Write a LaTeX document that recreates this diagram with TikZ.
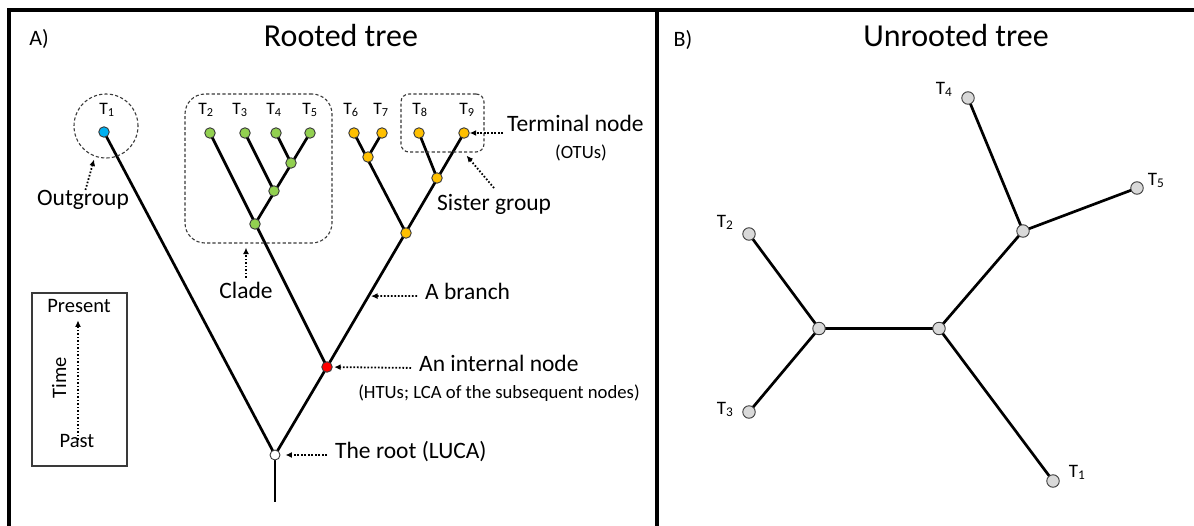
\documentclass[tikz,border=0pt]{standalone}
\usepackage{fontspec}
\setmainfont{Carlito}
\usetikzlibrary{arrows.meta,backgrounds,calc}

\definecolor{tipblue}{HTML}{00B0F0}
\definecolor{cladegreen}{HTML}{92D050}
\definecolor{sisorange}{HTML}{FFC000}
\definecolor{ancred}{HTML}{FF0000}
\definecolor{nodegray}{HTML}{D9D9D9}
\definecolor{rimgray}{HTML}{3A3A3A}

\newcommand{\Tl}[1]{T\textsubscript{#1}}

\begin{document}
\begin{tikzpicture}[x=1pt,y=-1pt,
  frame/.style={line width=4pt},
  edge/.style={line width=2.7pt},
  tnode/.style={circle, draw=rimgray, line width=0.9pt, minimum size=10.5pt, inner sep=0pt},
  unode/.style={tnode, fill=nodegray, minimum size=12.5pt},
  grp/.style={draw=rimgray, line width=1.1pt, dash pattern=on 3.2pt off 2.2pt},
  ann/.style={line width=1.8pt, dash pattern=on 1.6pt off 1.9pt,
              -{Latex[length=6.5pt,width=6pt]}},
  tlab/.style={inner sep=0pt, text height=0.64em, text depth=0pt, font=\fontsize{17.5}{20}\selectfont},
  ulab/.style={tlab, font=\fontsize{19}{22}\selectfont},
  annlab/.style={inner xsep=2pt, inner ysep=0pt, text height=0.64em, text depth=0pt,
                 font=\fontsize{23.5}{28}\selectfont},
  small/.style={inner sep=0pt, text height=0.64em, text depth=0pt, font=\fontsize{18.7}{22}\selectfont},
  title/.style={inner sep=0pt, text height=0.64em, text depth=0pt, font=\fontsize{32}{38}\selectfont},
  panel/.style={inner sep=0pt, text height=0.64em, text depth=0pt, font=\fontsize{22}{26}\selectfont},
  timelab/.style={inner sep=0pt, text height=0.64em, text depth=0pt, font=\fontsize{20.5}{24}\selectfont},
]
\useasboundingbox (0,0) rectangle (1194,525);
\begin{scope}[on background layer]
  \fill[white] (0,0) rectangle (1194,525);
\end{scope}

% outer frame and panel divider
\draw[frame] (9,10) -- (1210,10);
\draw[frame] (9,8) -- (9,540);
\draw[frame] (657,10) -- (657,540);

% panel headings
\node[panel] (pa) at (39,42) {A)};
\node[title] (ta) at (341,43) {Rooted tree};
\node[panel] (pb) at (683,43) {B)};
\node[title] (tb) at (956,43) {Unrooted tree};

% ---------------- rooted tree ----------------
\node[tnode, fill=tipblue]    (t1) at (104,132) {};
\node[tnode, fill=cladegreen] (g2) at (210,133) {};
\node[tnode, fill=cladegreen] (g3) at (245,133) {};
\node[tnode, fill=cladegreen] (g4) at (276,133) {};
\node[tnode, fill=cladegreen] (g5) at (310,133) {};
\node[tnode, fill=cladegreen] (ga) at (291,163) {};
\node[tnode, fill=cladegreen] (gb) at (274,191) {};
\node[tnode, fill=cladegreen] (gc) at (255,224) {};
\node[tnode, fill=sisorange]  (o6) at (354,133) {};
\node[tnode, fill=sisorange]  (o7) at (382,133) {};
\node[tnode, fill=sisorange]  (oa) at (368,157) {};
\node[tnode, fill=sisorange]  (o8) at (419,133) {};
\node[tnode, fill=sisorange]  (o9) at (464,133) {};
\node[tnode, fill=sisorange]  (ob) at (437,178) {};
\node[tnode, fill=sisorange]  (oc) at (406,233) {};
\node[tnode, fill=ancred]     (red) at (327,367) {};
\node[tnode, fill=white, minimum size=10pt] (root) at (275,455) {};
\coordinate (stemend) at (275,502);

\begin{scope}[on background layer]
  \draw[edge] (t1.center) -- (root.center) -- (red.center);
  \draw[edge] (root.center) -- (stemend);
  \draw[edge] (g2.center) -- (red.center) -- (o9.center);
  \draw[edge] (g5.center) -- (gc.center);
  \draw[edge] (g3.center) -- (gb.center);
  \draw[edge] (g4.center) -- (ga.center);
  \draw[edge] (o6.center) -- (oc.center);
  \draw[edge] (o7.center) -- (oa.center);
  \draw[edge] (o8.center) -- (ob.center);
\end{scope}

% leaf labels
\node[tlab] (lt1) at (107,111) {\Tl{1}};
\node[tlab] (lt2) at (206,111) {\Tl{2}};
\node[tlab] (lt3) at (240,111) {\Tl{3}};
\node[tlab] (lt4) at (274,111) {\Tl{4}};
\node[tlab] (lt5) at (310,111) {\Tl{5}};
\node[tlab] (lt6) at (351,111) {\Tl{6}};
\node[tlab] (lt7) at (381,111) {\Tl{7}};
\node[tlab] (lt8) at (420,111) {\Tl{8}};
\node[tlab] (lt9) at (467,111) {\Tl{9}};

% groupings
\node[grp, circle, minimum size=64pt, inner sep=0pt] (og) at (106,126) {};
\node[grp, rectangle, rounded corners=20pt, minimum width=147pt, minimum height=149pt, inner sep=0pt] (clade) at (258.5,168.5) {};
\node[grp, rectangle, rounded corners=8pt, minimum width=83pt, minimum height=58pt, inner sep=0pt] (sis) at (442.5,123) {};

% annotations
\node[annlab] (lout) at (83,202) {Outgroup};
\draw[ann, shorten <=9pt, shorten >=3pt] (lout.north) -- (og.250);

\node[annlab] (lclade) at (246,295) {Clade};
\draw[ann, shorten <=14pt, shorten >=4pt] (lclade.north) -- (lclade.north |- clade.south);

\node[annlab, anchor=west] (lbranch) at (423,296) {A branch};
\coordinate (brpt) at ($(red)!0.303!(o9)$);
\draw[ann, shorten <=6pt, shorten >=2.5pt] (lbranch.west) -- (brpt);

\node[annlab, anchor=west] (lint) at (417,368) {An internal node};
\node[small] (lhtu) at (499,395) {(HTUs; LCA of the subsequent nodes)};
\draw[ann, shorten <=6pt, shorten >=1.5pt] (lint.west) -- (red);

\node[annlab, anchor=west] (lroot) at (333,455) {The root (LUCA)};
\draw[ann, shorten <=6pt, shorten >=5pt] (lroot.west) -- (root);

\node[annlab, anchor=west] (lterm) at (505,128) {Terminal node};
\node[small] (lotu) at (581,155) {(OTUs)};
\draw[ann, shorten <=2pt, shorten >=0pt] (lterm.west |- o9) -- (o9);

\node[annlab, anchor=west] (lsis) at (435,207) {Sister group};
\coordinate (sgtail) at (494,188);
\draw[ann, shorten >=4pt] (sgtail) -- (sis.south east -| o9);

% time legend
\node[draw=rimgray, line width=1.3pt, minimum width=95pt, minimum height=173pt, inner sep=0pt] (tbox) at (79.5,379.5) {};
\node[timelab] (lpresent) at (79,309) {Present};
\node[timelab] (lpast) at (77,444) {Past};
\node[timelab, rotate=90] (ltime) at (63,378) {Time};
\coordinate (tline) at (78,0);
\draw[ann, shorten <=1pt, shorten >=8pt] (lpast.north -| tline) -- (lpresent.south -| tline);

% ---------------- unrooted tree ----------------
\node[unode] (u2) at (749,234) {};
\node[unode] (u3) at (749,412) {};
\node[unode] (uL) at (819,328.5) {};
\node[unode] (uR) at (939,328.5) {};
\node[unode] (uU) at (1023,231) {};
\node[unode] (u4) at (968,98) {};
\node[unode] (u5) at (1137,188) {};
\node[unode] (u1) at (1053,481) {};

\begin{scope}[on background layer]
  \draw[edge] (u2.center) -- (uL.center) -- (u3.center);
  \draw[edge] (uL.center) -- (uR.center) -- (u1.center);
  \draw[edge] (uR.center) -- (uU.center) -- (u4.center);
  \draw[edge] (uU.center) -- (u5.center);
\end{scope}

\node[ulab] (lu2) at (725,224) {\Tl{2}};
\node[ulab] (lu3) at (725,411) {\Tl{3}};
\node[ulab] (lu4) at (944,91) {\Tl{4}};
\node[ulab] (lu5) at (1156,182) {\Tl{5}};
\node[ulab] (lu1) at (1077,474) {\Tl{1}};
\end{tikzpicture}
\end{document}
